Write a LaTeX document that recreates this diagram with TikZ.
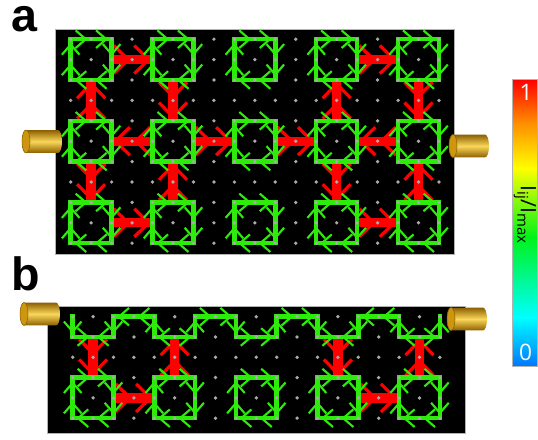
\documentclass[tikz,border=0pt]{standalone}
\usepackage{fontspec}
\setmainfont{Liberation Sans}
\newfontfamily\barfont{Open Sans}
\usetikzlibrary{decorations.markings}

\definecolor{lgreen}{RGB}{45,235,10}
\definecolor{dotgray}{RGB}{170,170,170}
\definecolor{golddk}{RGB}{140,95,0}
\definecolor{goldlt}{RGB}{250,215,90}
\definecolor{goldface}{RGB}{205,150,15}

% colour scale of the bar, middle 25bp..75bp is used
\pgfdeclareverticalshading{currentbar}{100bp}{rgb(0bp)=(0,0.47,1); rgb(25bp)=(0,0.47,1); rgb(33.5bp)=(0,1,1); rgb(47.5bp)=(0,0.95,0.1); rgb(59.5bp)=(1,1,0); rgb(67.5bp)=(1,0.55,0); rgb(75bp)=(1,0,0); rgb(100bp)=(1,0,0)}

% gold cylinder (electrode) at a named point
\newcommand\electrode[2]{%
  \coordinate (#1) at #2;
  \shade[top color=golddk, bottom color=golddk, middle color=goldlt]
    ([shift={(-12pt,8.6pt)}]#1) -- ([shift={(12pt,8.6pt)}]#1)
    arc[start angle=90, end angle=-90, x radius=3pt, y radius=8.6pt]
    -- ([shift={(-12pt,-8.6pt)}]#1)
    arc[start angle=270, end angle=90, x radius=3pt, y radius=8.6pt] -- cycle;
  \fill[goldface, draw=golddk, line width=0.4pt] ([xshift=-12pt]#1) ellipse [x radius=3pt, y radius=8.6pt];
}

\begin{document}
\begin{tikzpicture}[x=0.75pt, y=-0.75pt,
    gbond/.style={lgreen, line width=3.4pt, line cap=rect,
      postaction={decorate, decoration={markings, mark=at position 0.5 with
        {\draw[line width=1.6pt, line cap=butt] (-4pt,6.6pt) -- (3.6pt,0pt) -- (-4pt,-6.6pt);}}}},
    gloop/.style={lgreen, line width=3.4pt, line join=miter,
      postaction={decorate, decoration={markings, mark=between positions 0.0625 and 1 step 0.125 with
        {\draw[line width=1.6pt, line cap=butt] (-4pt,6.6pt) -- (3.6pt,0pt) -- (-4pt,-6.6pt);}}}},
    rbar/.style={red, line width=7pt,
      postaction={decorate, decoration={markings, mark=between positions 0.25 and 1 step 0.5 with
        {\draw[line width=2.4pt, line cap=butt] (-6pt,10.5pt) -- (4.8pt,0pt) -- (-6pt,-10.5pt);}}}},
    panel/.style={fill=black, draw=gray!60, line width=0.6pt}]
  \useasboundingbox (0,0) rectangle (538,439);

  % lattice points
  \foreach \i in {0,...,18}
    \foreach \j in {0,...,10}
      \coordinate (a\i-\j) at ({70.7+20.46*\i},{39.2+20.4*\j});
  \foreach \i in {0,...,18}
    \foreach \j in {0,...,5}
      \coordinate (b\i-\j) at ({72.7+20.4*\i},{316.7+20.3*\j});

  \fill[panel] (55,29) rectangle (454,254);
  \fill[panel] (47,306) rectangle (465,433);

  % strong currents
  \foreach \ia/\ja/\ib/\jb in {2/1/4/1, 14/1/16/1, 1/4/1/2, 5/2/5/4, 13/4/13/2, 17/2/17/4,
      4/5/2/5, 6/5/8/5, 10/5/12/5, 16/5/14/5, 1/6/1/8, 5/8/5/6, 13/6/13/8, 17/8/17/6,
      2/9/4/9, 14/9/16/9}
    \draw[rbar] (a\ia-\ja) -- (a\ib-\jb);
  \foreach \ia/\ja/\ib/\jb in {1/1/1/3, 2/4/4/4, 5/3/5/1, 13/1/13/3, 14/4/16/4, 17/3/17/1}
    \draw[rbar] (b\ia-\ja) -- (b\ib-\jb);

  % loops
  \foreach \ci in {1,5,9,13,17} {
    \pgfmathtruncatemacro\il{\ci-1}
    \pgfmathtruncatemacro\ir{\ci+1}
    \foreach \jt/\jb in {0/2, 4/6, 8/10}
      \draw[gloop] (a\il-\jb) -- (a\il-\jt) -- (a\ir-\jt) -- (a\ir-\jb) -- cycle;
    \draw[gloop] (b\il-5) -- (b\il-3) -- (b\ir-3) -- (b\ir-5) -- cycle;
  }

  % edge path of b
  \foreach \ia/\ja/\ib/\jb in {0/0/0/1, 0/1/1/1, 2/1/1/1, 2/0/2/1, 3/0/2/0, 4/0/3/0,
      4/1/4/0, 5/1/4/1, 5/1/6/1, 6/1/6/0, 6/0/7/0, 7/0/8/0, 8/0/8/1, 8/1/9/1, 9/1/10/1,
      10/1/10/0, 10/0/11/0, 11/0/12/0, 12/0/12/1, 12/1/13/1, 14/1/13/1, 14/0/14/1,
      15/0/14/0, 16/0/15/0, 16/1/16/0, 17/1/16/1, 17/1/18/1, 18/1/18/0}
    \draw[gbond] (b\ia-\ja) -- (b\ib-\jb);

  % sites
  \foreach \i in {0,...,18} {
    \foreach \j in {0,...,10}
      \fill[dotgray] (a\i-\j) circle (1.4pt);
    \foreach \j in {0,...,5}
      \fill[dotgray] (b\i-\j) circle (1.4pt);
  }

  \electrode{ea1}{(42,141.5)}
  \electrode{ea2}{(469,146)}
  \electrode{eb1}{(40,314)}
  \electrode{eb2}{(467,319)}

  \node[font=\bfseries\fontsize{35}{35}\selectfont, inner sep=0pt] (la) at (24.5,19) {a};
  \node[font=\bfseries\fontsize{35}{35}\selectfont, inner sep=0pt] (lb) at (26,274) {b};

  % colour bar
  \shade[shading=currentbar] (512.5,79.5) rectangle (537.5,366);
  \draw[gray!60, line width=0.4pt] (512.5,79.5) rectangle (537.5,366);
  \node[white, font=\barfont\fontsize{17}{17}\selectfont, inner sep=0pt] (top) at (526,92.5) {1};
  \node[white, font=\barfont\fontsize{17}{17}\selectfont, inner sep=0pt] (bot) at (525.5,352.5) {0};
  \node[rotate=-90, font=\barfont\fontsize{16}{16}\selectfont, inner sep=0pt] (lab) at (525,215)
    {I\textsubscript{ij}/I\textsubscript{max}};
\end{tikzpicture}
\end{document}
